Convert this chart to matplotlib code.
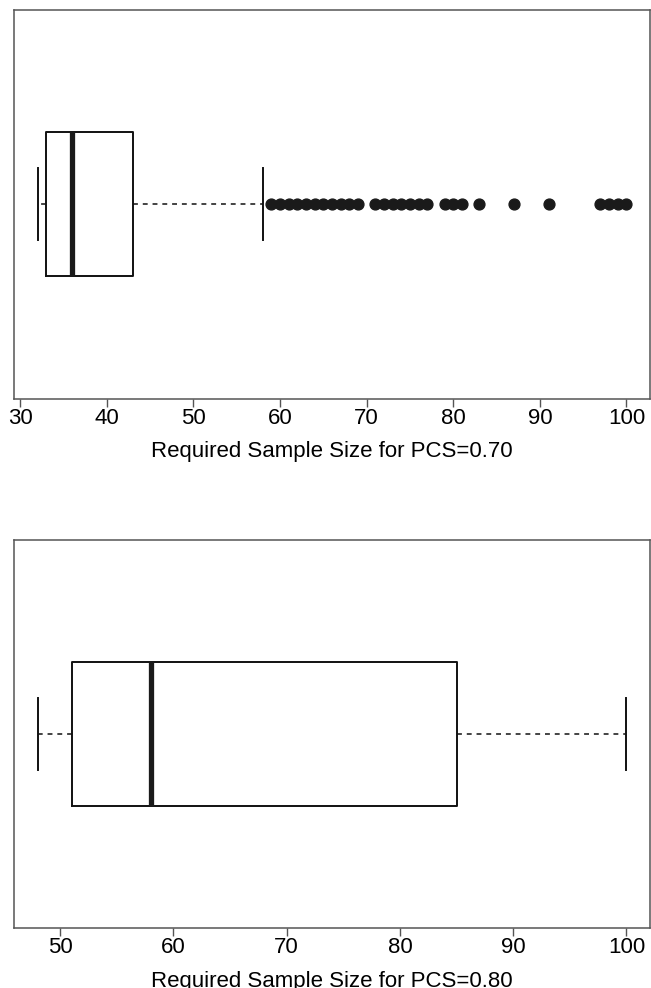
import matplotlib
matplotlib.use('Agg')
import matplotlib.pyplot as plt

plt.rcParams['font.family'] = ['Liberation Sans', 'DejaVu Sans']

# five-number summaries (R style boxplots)
pcs70_stats = dict(whislo=32, q1=33, med=36, q3=43, whishi=58)
pcs70_outliers = [59, 60, 61, 62, 63, 64, 65, 66, 67, 68, 69,
                  71, 72, 73, 74, 75, 76, 77,
                  79, 80, 81, 83, 87, 91,
                  97, 98, 99, 100]
pcs80_stats = dict(whislo=48, q1=51, med=58, q3=85, whishi=100)
pcs80_outliers = []

panels = [
    (pcs70_stats, pcs70_outliers, [30, 40, 50, 60, 70, 80, 90, 100],
     'Required Sample Size for PCS=0.70'),
    (pcs80_stats, pcs80_outliers, [50, 60, 70, 80, 90, 100],
     'Required Sample Size for PCS=0.80'),
]

fig = plt.figure(figsize=(6.51, 9.88), dpi=100)
rects = [[0.0215, 0.5962, 0.977, 0.3937],
         [0.0215, 0.0607, 0.977, 0.3927]]

for (st, outl, ticks, label), rect in zip(panels, rects):
    ax = fig.add_axes(rect)
    s = dict(st)
    s['fliers'] = outl
    ax.bxp([s], positions=[1], vert=False, widths=0.4,
           showfliers=True, patch_artist=False,
           boxprops=dict(color='#111111', linewidth=1.4),
           medianprops=dict(color='#1a1a1a', linewidth=3.8,
                            solid_capstyle='butt'),
           whiskerprops=dict(color='#111111', linewidth=1.1,
                             linestyle=(0, (3.2, 3.2))),
           capprops=dict(color='#111111', linewidth=1.4),
           capwidths=0.2,
           flierprops=dict(marker='o', markersize=7.8,
                           markerfacecolor='#1a1a1a',
                           markeredgecolor='#1a1a1a'))
    lo = min([s['whislo']] + outl)
    hi = max([s['whishi']] + outl)
    pad = (hi - lo) * 0.04
    ax.set_xlim(lo - pad, hi + pad)
    ax.set_ylim(0.46, 1.54)
    ax.set_yticks([])
    ax.set_xticks(ticks)
    ax.tick_params(axis='x', direction='out', length=5.5, width=1,
                   color='#555555', labelsize=16, pad=1)
    for sp in ax.spines.values():
        sp.set_color('#555555')
        sp.set_linewidth(1.1)
    ax.set_xlabel(label, fontsize=16, labelpad=9)

fig.savefig('out.png', dpi=100)
